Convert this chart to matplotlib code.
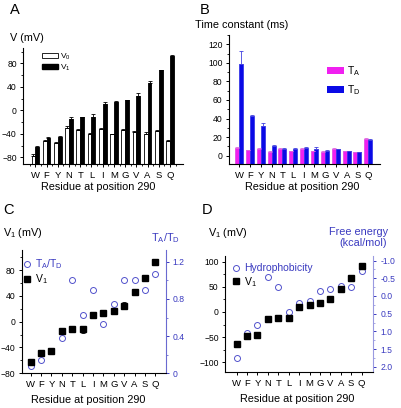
import numpy as np
import matplotlib.pyplot as plt
from matplotlib.ticker import MultipleLocator
from matplotlib.lines import Line2D
from matplotlib.patches import Patch

plt.rcParams['font.family'] = ['Liberation Sans', 'DejaVu Sans']
plt.rcParams['mathtext.default'] = 'regular'

# data
residues = ['W', 'F', 'Y', 'N', 'T', 'L', 'I', 'M', 'G', 'V', 'A', 'S', 'Q']
v0 = [-77, -53, -56, -30, -33, -40, -32, -41, -33.5, -37.5, -41, -36, -52]
v0_err = [2, 2, 2, 3, 2, 2, 2, 1, 2, 2, 4, 3, 1]
v1 = [-63, -48, -45, -14, -12, -12, 10, 14, 17, 25, 46, 68, 92]
v1_err = [3, 2, 2, 2, 1, 6, 4, 1, 1, 5, 4, 1, 2]
tau_a = [8, 6, 7.5, 4, 7.5, 5, 7.5, 4.5, 4, 7.5, 5, 3.5, 18]
tau_a_err = [1, 0.5, 1, 0.5, 0.5, 0.5, 0.5, 0.5, 1, 0.5, 0.5, 0.5, 1.5]
tau_d = [99, 42.5, 32.5, 10.5, 7.5, 7.5, 8.5, 7.5, 5.5, 7, 4.5, 3.5, 16.5]
tau_d_err = [14, 1, 3, 1, 0.5, 1, 1, 1.5, 1, 0.5, 0.5, 0.5, 1]
ratio_ad = [0.08, 0.14, 0.24, 0.38, 1.0, 0.63, 0.9, 0.53, 0.75, 1.0, 1.0, 0.9, 1.07]
hydrophobicity = [1.76, 1.04, 0.83, -0.55, -0.26, 0.46, 0.21, 0.13, -0.13, -0.19, -0.29, -0.25, -0.71]

W, H = 401, 408
fig = plt.figure(figsize=(W / 100, H / 100), dpi=100)

def box(x0, y0, x1, y1):
    return [x0 / W, 1 - y1 / H, (x1 - x0) / W, (y1 - y0) / H]

def ftext(x, y, s, **kw):
    fig.text(x / W, 1 - y / H, s, **kw)

blue_txt = '#3a3ac0'
circ_col = '#5252cc'
x = np.arange(len(residues))
tick_fs = 6.2
lab_fs = 7.8

def style(ax, right=False):
    for s in ['top'] + ([] if right else ['right']):
        ax.spines[s].set_visible(False)
    for s in ax.spines.values():
        s.set_linewidth(0.8)
    ax.tick_params(direction='out', length=2.5, width=0.7, labelsize=tick_fs, pad=2)
    ax.tick_params(which='minor', direction='out', length=1.5, width=0.6)
    ax.set_xticks(x)
    ax.set_xticklabels(residues, fontsize=6.8)
    ax.tick_params(axis='x', pad=2.5)

# ---- A ----
axA = fig.add_axes(box(23, 48, 183, 164))
style(axA)
baseA = -91.4
axA.set_ylim(baseA, 106)
axA.set_xlim(-1.1, 13.15)
wA = 0.34
axA.bar(x - wA / 2, np.array(v0) - baseA, wA, bottom=baseA, color='white', edgecolor='black', linewidth=0.6,
        yerr=[np.zeros(13), v0_err], error_kw=dict(elinewidth=0.6, capsize=1.2, capthick=0.6, ecolor='black'))
axA.bar(x + wA / 2, np.array(v1) - baseA, wA, bottom=baseA, color='black', edgecolor='black', linewidth=0.6,
        yerr=[np.zeros(13), v1_err], error_kw=dict(elinewidth=0.6, capsize=1.2, capthick=0.6, ecolor='black'))
axA.yaxis.set_major_locator(MultipleLocator(40))
axA.yaxis.set_minor_locator(MultipleLocator(20))
axA.set_xticks(np.arange(-0.5, 13, 1), minor=True)
axA.set_yticks([-80, -40, 0, 40, 80])
axA.legend(handles=[Patch(facecolor='white', edgecolor='black', linewidth=0.6, label='V$_0$'),
                    Patch(facecolor='black', edgecolor='black', label='V$_1$')],
           loc='upper left', bbox_to_anchor=(0.08, 1.02), frameon=False, fontsize=6,
           handlelength=2.0, handleheight=0.6, handletextpad=0.2, labelspacing=0.1, borderpad=0.2)
ftext(10, 38, 'V (mV)', fontsize=lab_fs, va='center')
ftext(98, 187, 'Residue at position 290', fontsize=lab_fs, ha='center', va='center')
ftext(10, 10, 'A', fontsize=10.5, va='center')

# ---- B ----
axB = fig.add_axes(box(229, 35, 380, 164.3))
style(axB)
baseB = -9.3
axB.set_ylim(baseB, 130)
axB.set_xlim(-0.96, 13.1)
wB = 0.37
axB.bar(x - wB / 2, np.array(tau_a) - baseB, wB, bottom=baseB, color='#f020f0', edgecolor='#e040e0', linewidth=0.5,
        yerr=[np.zeros(13), tau_a_err], error_kw=dict(elinewidth=0.6, capsize=1.2, capthick=0.6, ecolor='#e060e0'))
axB.bar(x + wB / 2, np.array(tau_d) - baseB, wB, bottom=baseB, color='#0a0ae6', edgecolor='#2a2ae6', linewidth=0.5,
        yerr=[np.zeros(13), tau_d_err], error_kw=dict(elinewidth=0.6, capsize=1.2, capthick=0.6, ecolor='#4040e0'))
axB.yaxis.set_major_locator(MultipleLocator(20))
axB.yaxis.set_minor_locator(MultipleLocator(10))
axB.set_yticks([0, 20, 40, 60, 80, 100, 120])
axB.legend(handles=[Patch(facecolor='#f020f0', label='T$_A$'), Patch(facecolor='#0a0ae6', label='T$_D$')],
           loc='upper left', bbox_to_anchor=(0.6, 0.83), frameon=False, fontsize=7.5,
           handlelength=1.6, handleheight=0.6, handletextpad=0.3, labelspacing=0.5, borderpad=0.2)
ftext(195, 25, 'Time constant (ms)', fontsize=lab_fs, va='center')
ftext(302, 187, 'Residue at position 290', fontsize=lab_fs, ha='center', va='center')
ftext(200, 10, 'B', fontsize=10.5, va='center')

# ---- C ----
axC = fig.add_axes(box(21.7, 250, 166, 373.3))
style(axC)
axC.set_ylim(-80, 111)
axC.set_xlim(-0.87, 13.03)
axC.yaxis.set_major_locator(MultipleLocator(40))
axC.yaxis.set_minor_locator(MultipleLocator(20))
axC.set_yticks([-80, -40, 0, 40, 80])
axC2 = axC.twinx()
axC2.set_ylim(0, 1.326)
for s in ['top', 'left', 'bottom']:
    axC2.spines[s].set_visible(False)
axC2.spines['right'].set_color('#6a6ad0')
axC2.spines['right'].set_linewidth(0.8)
axC2.yaxis.set_major_locator(MultipleLocator(0.4))
axC2.yaxis.set_minor_locator(MultipleLocator(0.2))
axC2.set_yticks([0, 0.4, 0.8, 1.2])
axC2.set_yticklabels(['0', '0.4', '0.8', '1.2'])
axC2.tick_params(direction='out', length=2.5, width=0.7, labelsize=tick_fs, pad=2, colors=blue_txt)
axC2.tick_params(which='minor', direction='out', length=1.5, width=0.6, colors='#6a6ad0')
axC2.plot(x, ratio_ad, 'o', ms=4.3, mfc='none', mec=circ_col, mew=0.7, zorder=1)
axC.set_zorder(axC2.get_zorder() + 1)
axC.patch.set_visible(False)
axC.errorbar(x, v1, yerr=v1_err, fmt='s', ms=4.3, color='black', elinewidth=0.6, capsize=1.2, capthick=0.6)
axC.legend(handles=[Line2D([], [], ls='none', marker='o', ms=4.3, mfc='none', mec=circ_col, mew=0.7, label='T$_A$/T$_D$'),
                    Line2D([], [], ls='none', marker='s', ms=4.3, color='black', label='V$_1$')],
           loc='upper left', bbox_to_anchor=(-0.04, 1.0), frameon=False, fontsize=7.5, labelcolor=[blue_txt, 'black'],
           handlelength=0.8, handletextpad=0.3, labelspacing=0.15, borderpad=0.2)
ftext(3, 233, 'V$_1$ (mV)', fontsize=lab_fs, va='center')
ftext(166, 238, 'T$_A$/T$_D$', fontsize=lab_fs, ha='center', va='center', color=blue_txt)
ftext(88, 400, 'Residue at position 290', fontsize=lab_fs, ha='center', va='center')
ftext(3, 210, 'C', fontsize=10.5, va='center')

# ---- D ----
axD = fig.add_axes(box(225, 256, 372.7, 371.7))
style(axD)
axD.set_ylim(-118.7, 111)
axD.set_xlim(-1.12, 13.06)
axD.set_yticks([-100, -50, 0, 50, 100])
axD.yaxis.set_minor_locator(MultipleLocator(25))
axD2 = axD.twinx()
axD2.set_ylim(2.14, -1.13)
for s in ['top', 'left', 'bottom']:
    axD2.spines[s].set_visible(False)
axD2.spines['right'].set_color('#9a9ae0')
axD2.spines['right'].set_linewidth(0.8)
axD2.spines['right'].set_linestyle((0, (3, 1)))
axD2.set_yticks([-1.0, -0.5, 0.0, 0.5, 1.0, 1.5, 2.0])
axD2.set_yticklabels(['-1.0', '-0.5', '0.0', '0.5', '1.0', '1.5', '2.0'])
axD2.yaxis.set_minor_locator(MultipleLocator(0.25))
axD2.tick_params(direction='out', length=2.5, width=0.7, labelsize=tick_fs, pad=3, colors=blue_txt)
axD2.tick_params(which='minor', direction='out', length=1.5, width=0.6, colors='#9a9ae0')
axD2.plot(x, hydrophobicity, 'o', ms=4.3, mfc='none', mec=circ_col, mew=0.7, zorder=1)
axD.set_zorder(axD2.get_zorder() + 1)
axD.patch.set_visible(False)
axD.errorbar(x, v1, yerr=v1_err, fmt='s', ms=4.3, color='black', elinewidth=0.6, capsize=1.0, capthick=0.6)
axD.legend(handles=[Line2D([], [], ls='none', marker='o', ms=4.3, mfc='none', mec=circ_col, mew=0.7, label='Hydrophobicity'),
                    Line2D([], [], ls='none', marker='s', ms=4.3, color='black', label='V$_1$')],
           loc='upper left', bbox_to_anchor=(0.0, 1.0), frameon=False, fontsize=7.5, labelcolor=[blue_txt, 'black'],
           handlelength=0.8, handletextpad=0.3, labelspacing=0.15, borderpad=0.2)
ftext(208, 233, 'V$_1$ (mV)', fontsize=lab_fs, va='center')
ftext(388, 232, 'Free energy', fontsize=lab_fs, ha='right', va='center', color=blue_txt)
ftext(387, 243, '(kcal/mol)', fontsize=lab_fs, ha='right', va='center', color=blue_txt)
ftext(297, 399, 'Residue at position 290', fontsize=lab_fs, ha='center', va='center')
ftext(202, 210, 'D', fontsize=10.5, va='center')

fig.savefig('out.png', dpi=100)
